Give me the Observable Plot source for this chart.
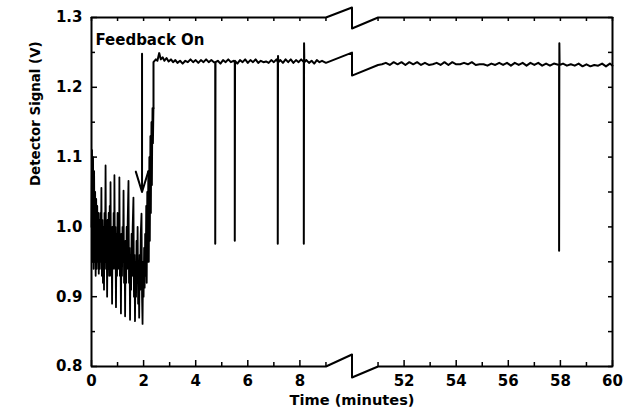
<!DOCTYPE html>
<html><head><meta charset="utf-8">
<script src="https://cdn.jsdelivr.net/npm/d3@7"></script>
<script src="https://cdn.jsdelivr.net/npm/@observablehq/plot@0.6"></script>
<style>body{margin:0;background:#fff}</style>
</head><body><div id="chart"></div>
<script>
// ---- data (time in minutes, detector signal in V) ----
const oscillation = [[0.00,1.00],[0.02,1.11],[0.04,0.95],[0.06,1.10],[0.08,0.94],[0.10,1.08],[0.12,0.95],[0.14,1.05],[0.16,0.93],[0.18,1.04],[0.20,0.94],[0.22,1.03],[0.24,0.95],[0.26,1.02],[0.28,0.933],[0.30,1.01],[0.32,0.94],[0.34,1.02],[0.36,0.95],[0.38,1.056],[0.40,0.93],[0.42,1.01],[0.44,0.92],[0.46,1.00],[0.48,0.91],[0.50,1.02],[0.52,0.95],[0.54,1.088],[0.56,0.94],[0.58,1.00],[0.60,0.90],[0.62,1.01],[0.64,0.94],[0.66,1.02],[0.68,0.93],[0.70,1.03],[0.72,0.96],[0.73,1.064],[0.75,0.93],[0.77,1.00],[0.79,0.89],[0.81,1.00],[0.83,0.94],[0.85,1.02],[0.87,0.95],[0.88,1.074],[0.90,0.94],[0.92,1.00],[0.94,0.885],[0.96,0.99],[0.98,0.93],[1.00,1.02],[1.02,0.94],[1.04,1.01],[1.06,0.95],[1.07,1.071],[1.09,0.93],[1.11,0.99],[1.13,0.876],[1.15,0.99],[1.17,0.93],[1.19,1.00],[1.21,0.95],[1.23,1.052],[1.25,0.92],[1.27,0.98],[1.29,0.872],[1.31,0.98],[1.33,0.92],[1.35,1.00],[1.37,0.94],[1.39,1.01],[1.42,1.066],[1.44,0.92],[1.46,0.97],[1.48,0.867],[1.50,0.96],[1.52,0.91],[1.54,0.99],[1.56,0.93],[1.58,1.00],[1.61,1.042],[1.63,0.90],[1.65,0.96],[1.67,0.865],[1.69,0.95],[1.71,0.90],[1.73,0.98],[1.75,0.92],[1.77,1.00],[1.79,0.89],[1.81,0.95],[1.83,0.87],[1.85,0.96],[1.87,0.91],[1.89,0.99],[1.92,1.019],[1.94,0.90],[1.96,0.861],[1.98,0.95],[2.00,0.90],[2.02,0.97],[2.04,0.913],[2.06,0.99],[2.08,0.93],[2.10,1.03],[2.12,0.92],[2.14,1.05],[2.16,0.95],[2.18,1.08],[2.20,0.95],[2.22,1.10],[2.24,0.98],[2.26,1.13],[2.28,1.02],[2.30,1.15],[2.32,1.06],[2.34,1.17],[2.36,1.12],[2.38,1.17]];

const plateauLeft = [[2.38,1.236],[2.47,1.240],[2.53,1.238],[2.60,1.249],[2.66,1.240],[2.73,1.243],[2.80,1.238],[2.88,1.242],[2.96,1.237],[3.05,1.240],[3.13,1.236],[3.22,1.239],[3.30,1.235],[3.40,1.238],[3.50,1.234],[3.60,1.238],[3.70,1.236],[3.80,1.240],[3.90,1.236],[4.00,1.239],[4.10,1.235],[4.20,1.239],[4.30,1.236],[4.40,1.240],[4.50,1.236],[4.60,1.239],[4.70,1.236],[4.75,1.236],[4.75,0.976],[4.76,1.236],[4.85,1.238],[4.95,1.234],[5.05,1.239],[5.15,1.236],[5.25,1.240],[5.35,1.236],[5.45,1.238],[5.50,1.236],[5.50,0.980],[5.51,1.238],[5.60,1.234],[5.70,1.239],[5.80,1.236],[5.90,1.240],[6.00,1.235],[6.10,1.239],[6.20,1.236],[6.30,1.240],[6.40,1.235],[6.50,1.238],[6.60,1.236],[6.70,1.237],[6.80,1.235],[6.90,1.239],[7.00,1.236],[7.10,1.240],[7.15,1.236],[7.15,0.976],[7.16,1.245],[7.17,1.236],[7.25,1.239],[7.35,1.235],[7.45,1.240],[7.55,1.236],[7.65,1.240],[7.75,1.235],[7.85,1.239],[7.95,1.236],[8.05,1.240],[8.15,1.236],[8.15,0.976],[8.16,1.263],[8.17,1.236],[8.25,1.239],[8.35,1.235],[8.45,1.238],[8.55,1.234],[8.65,1.239],[8.75,1.236],[8.85,1.238],[9.00,1.235]];

const plateauRight = [[51.0,1.232],[51.15,1.233],[51.3,1.235],[51.45,1.232],[51.6,1.236],[51.75,1.233],[51.9,1.236],[52.05,1.232],[52.2,1.236],[52.35,1.233],[52.5,1.236],[52.65,1.232],[52.8,1.235],[52.95,1.232],[53.1,1.233],[53.25,1.235],[53.4,1.232],[53.55,1.236],[53.7,1.232],[53.85,1.236],[54.0,1.233],[54.15,1.233],[54.3,1.235],[54.45,1.233],[54.6,1.236],[54.75,1.232],[54.9,1.233],[55.05,1.233],[55.2,1.231],[55.35,1.234],[55.5,1.232],[55.65,1.235],[55.8,1.232],[55.95,1.235],[56.1,1.231],[56.25,1.235],[56.4,1.232],[56.55,1.235],[56.7,1.231],[56.85,1.235],[57.0,1.232],[57.15,1.235],[57.3,1.231],[57.45,1.234],[57.6,1.231],[57.75,1.234],[57.95,1.232],[57.95,0.966],[57.96,1.263],[57.97,1.232],[58.1,1.234],[58.25,1.231],[58.4,1.233],[58.55,1.231],[58.7,1.234],[58.85,1.230],[59.0,1.233],[59.15,1.230],[59.3,1.232],[59.45,1.231],[59.6,1.234],[59.75,1.230],[59.9,1.234],[60.0,1.231]];

const xTickLabels = [0,2,4,6,8,52,54,56,58,60];
const xMinorTicks = [1,3,5,7,9,51,53,55,57,59];
const yTickLabels = [0.8,0.9,1.0,1.1,1.2,1.3];
const yMinorTicks = [0.85,0.95,1.05,1.15,1.25];
const breakStart = 9, breakEnd = 51;
const xLabel = "Time (minutes)";
const yLabel = "Detector Signal (V)";
const noteText = "Feedback On";
const noteTime = 0.15, noteSignal = 1.267;
const arrowTime = 1.94, arrowFrom = 1.248, arrowTo = 1.05;

// ---- axis break: compress the gap 9..51 into 2 minutes of width ----
const gapWidth = 2;
const compress = t => t <= breakStart ? t : t - (breakEnd - breakStart) + gapWidth;
const expand = x => x <= breakStart ? x : x + (breakEnd - breakStart) - gapWidth;
const x0 = compress(0), x1 = compress(60);
const mid = breakStart + gapWidth / 2;
const zig = (level, up, down) => [[breakStart, level], [mid, level + up], [mid, level - down], [breakStart + gapWidth, level]];

const yPx = 0.5 / 349, xPx = 20 / 521;

const oscPts = oscillation.map(([t, v]) => ({x: compress(t), y: v}));
const plateau = [
  ...plateauLeft.map(([t, v]) => ({x: compress(t), y: v})),
  ...zig(1.234, 11 * yPx, 12 * yPx).slice(1, 3).map(([x, y]) => ({x, y})),
  ...plateauRight.map(([t, v]) => ({x: compress(t), y: v}))
];
plateau.unshift(oscPts[oscPts.length - 1]);

const topEdge = [[x0, 1.3], ...zig(1.3, 10 * yPx, 11 * yPx), [x1, 1.3]];
const bottomEdge = [[x0, 0.8], ...zig(0.8, 12 * yPx, 11 * yPx), [x1, 0.8]];

const font = "DejaVu Sans";
const chart = Plot.plot({
  width: 626, height: 417,
  marginLeft: 91, marginRight: 14, marginTop: 17, marginBottom: 51,
  style: {fontFamily: font, fontSize: "15px", fontWeight: "bold", background: "#fff", color: "#000"},
  x: {domain: [x0, x1]},
  y: {domain: [0.8, 1.3]},
  marks: [
    // frame with break symbols
    Plot.line(topEdge, {x: d => d[0], y: d => d[1], stroke: "black", strokeWidth: 2}),
    Plot.line(bottomEdge, {x: d => d[0], y: d => d[1], stroke: "black", strokeWidth: 2}),
    Plot.ruleX([x0, x1], {stroke: "black", strokeWidth: 2}),
    // inward ticks
    Plot.ruleX(xTickLabels, {x: compress, y1: 0.8, y2: 0.8 + 6 * yPx, strokeWidth: 1.5}),
    Plot.ruleX(xMinorTicks, {x: compress, y1: 0.8, y2: 0.8 + 4 * yPx, strokeWidth: 1.5}),
    Plot.ruleX([...xTickLabels, ...xMinorTicks], {x: compress, y1: 1.3, y2: 1.3 - 4 * yPx, strokeWidth: 1.5}),
    Plot.ruleY(yTickLabels, {y: d => d, x1: x0, x2: x0 + 6 * xPx, strokeWidth: 1.5}),
    Plot.ruleY(yMinorTicks, {y: d => d, x1: x0, x2: x0 + 4 * xPx, strokeWidth: 1.5}),
    Plot.ruleY([...yTickLabels, ...yMinorTicks], {y: d => d, x1: x1 - 4 * xPx, x2: x1, strokeWidth: 1.5}),
    // axes (labels only)
    Plot.axisX({ticks: xTickLabels.map(compress), tickFormat: d => String(expand(d)), tickSize: 0, tickPadding: 9, label: null, fontSize: 15}),
    Plot.axisY({ticks: yTickLabels, tickFormat: d => d.toFixed(1), tickSize: 0, tickPadding: 9, label: null, fontSize: 15}),
    // signal
    Plot.line(oscPts, {x: "x", y: "y", stroke: "black", strokeWidth: 1.8, strokeLinejoin: "round"}),
    Plot.line(plateau, {x: "x", y: "y", stroke: "black", strokeWidth: 2, strokeLinejoin: "round"}),
    // annotation
    Plot.arrow([0], {x1: () => compress(arrowTime), x2: () => compress(arrowTime), y1: () => arrowFrom, y2: () => arrowTo, stroke: "black", strokeWidth: 2, headAngle: 34, headLength: 16}),
    Plot.text([noteText], {x: () => compress(noteTime), y: () => noteSignal, text: d => d, textAnchor: "start", fontSize: 15, fontWeight: "bold"}),
    // axis titles
    Plot.text([xLabel], {frameAnchor: "bottom", dy: 38, text: d => d, fontSize: 14.6, fontWeight: "bold"}),
    Plot.text([yLabel], {frameAnchor: "left", dx: -56, dy: -6, rotate: -90, text: d => d, fontSize: 13.4, fontWeight: "bold"})
  ]
});
document.getElementById("chart").appendChild(chart);
</script>
</body></html>
